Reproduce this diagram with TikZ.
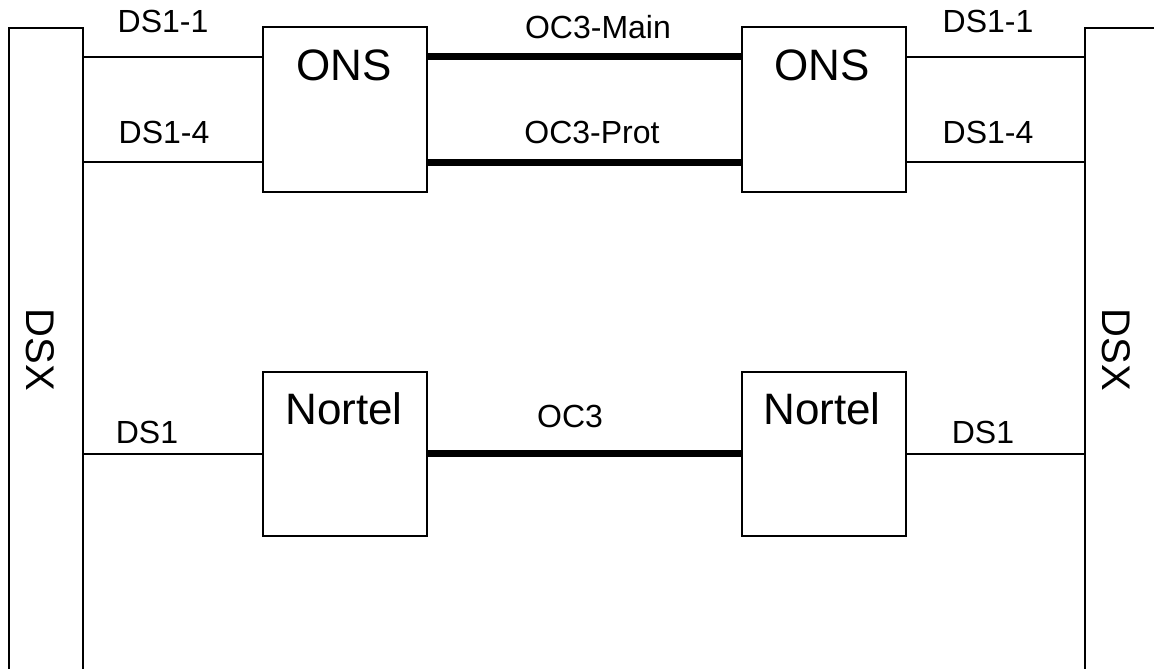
\documentclass[tikz,border=0pt]{standalone}
\usepackage{fontspec}
\setmainfont{Liberation Sans}
\begin{document}
\begin{tikzpicture}[x=1pt,y=-1pt,
  box/.style={draw,line width=2pt,minimum width=164pt,minimum height=164pt,inner sep=0pt,outer sep=0pt},
  rack/.style={draw,line width=2pt,inner sep=0pt,outer sep=0pt},
  lbl/.style={anchor=base,inner sep=0pt,font=\fontsize{32}{38}\selectfont},
  big/.style={anchor=base,inner sep=0pt,font=\fontsize{44}{52}\selectfont},
  dsx/.style={rotate=-90,inner sep=0pt,font=\fontsize{40}{48}\selectfont},
  thinline/.style={line width=2pt},
  thickline/.style={line width=7pt}]
\useasboundingbox (0,0) rectangle (1154,669);
\clip (0,0) rectangle (1154,669);
\fill[white] (0,0) rectangle (1154,669);
% DSX racks
\node[rack,minimum width=74pt,minimum height=672pt] (dsxL) at (45.5,364) {};
\node[rack,minimum width=115pt,minimum height=672pt] (dsxR) at (1142.5,364) {};
\node[dsx] (dsxLt) at (40.5,350) {DSX};
\node[dsx] (dsxRt) at (1116,350) {DSX};
% boxes
\node[box] (onsL) at (345,109.5) {};
\node[box] (onsR) at (823.5,109.5) {};
\node[box] (norL) at (345,453.5) {};
\node[box] (norR) at (823.5,453.5) {};
\node[big] (onsLt) at (344,81) {ONS};
\node[big] (onsRt) at (822,81) {ONS};
\node[big] (norLt) at (344,424) {Nortel};
\node[big] (norRt) at (822,424) {Nortel};
% connectors
\draw[thinline] (dsxL.east |- 0,57) -- (onsL.west |- 0,57);
\draw[thinline] (dsxL.east |- 0,162) -- (onsL.west |- 0,162);
\draw[thinline] (dsxL.east |- norL.west) -- (norL.west);
\draw[thinline] (onsR.east |- 0,57) -- (dsxR.west |- 0,57);
\draw[thinline] (onsR.east |- 0,162) -- (dsxR.west |- 0,162);
\draw[thinline] (norR.east) -- (dsxR.west |- norR.east);
\draw[thickline] (onsL.east |- 0,57) -- (onsR.west |- 0,57);
\draw[thickline] (onsL.east |- 0,162) -- (onsR.west |- 0,162);
\draw[thickline] (norL.east) -- (norR.west);
% labels
\node[lbl] (l1) at (163,33) {DS1-1};
\node[lbl] (l2) at (164,143) {DS1-4};
\node[lbl] (l3) at (147,443) {DS1};
\node[lbl] (r1) at (988,33) {DS1-1};
\node[lbl] (r2) at (988,143) {DS1-4};
\node[lbl] (r3) at (983,443) {DS1};
\node[lbl] (m1) at (598,39) {OC3-Main};
\node[lbl] (m2) at (592,143) {OC3-Prot};
\node[lbl] (m3) at (570,427) {OC3};
\end{tikzpicture}
\end{document}
